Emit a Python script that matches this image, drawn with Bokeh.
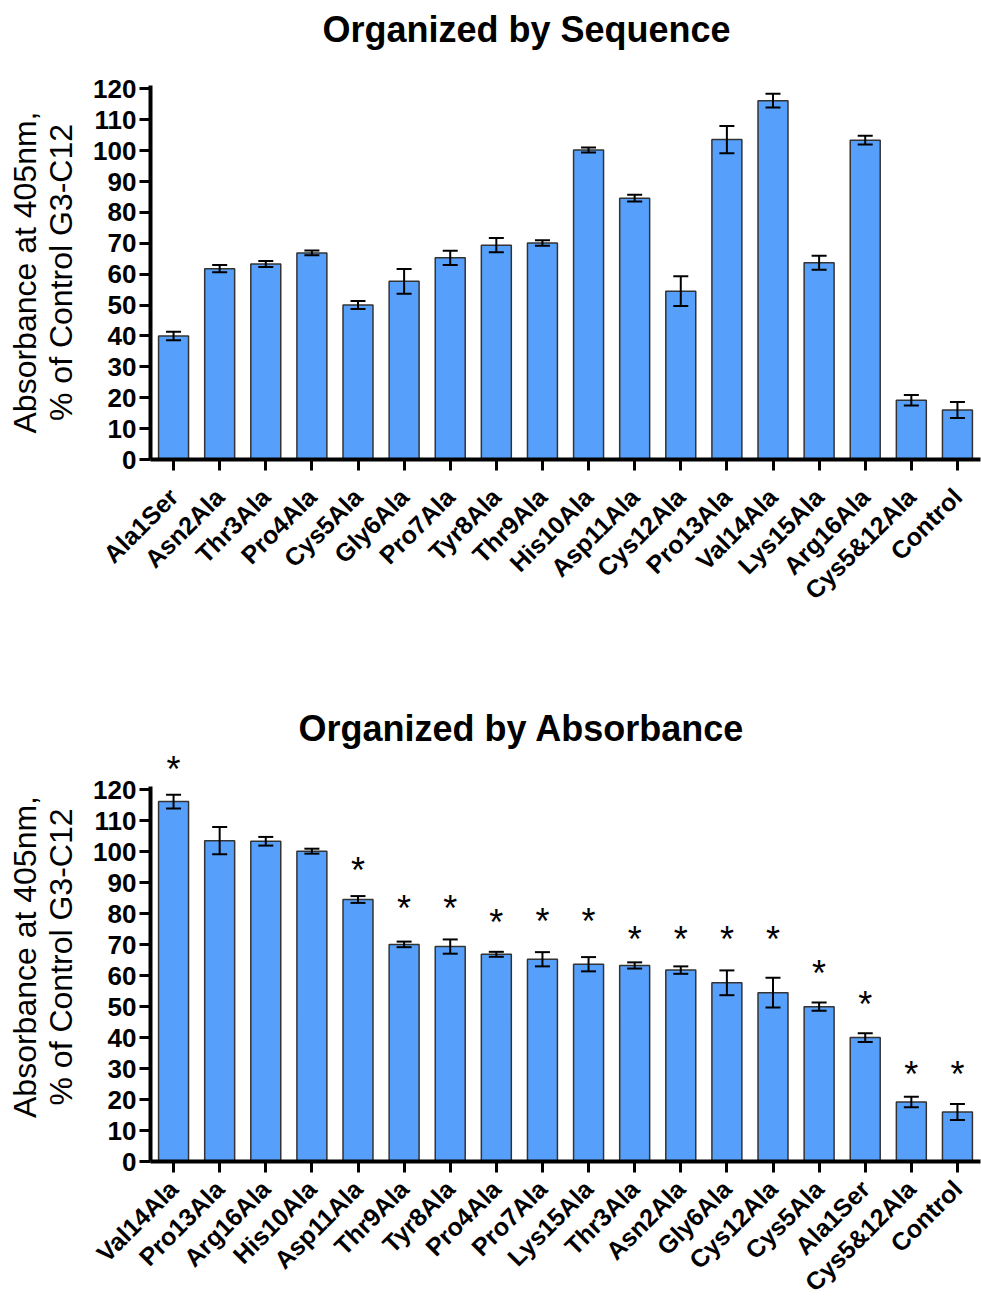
from math import pi
from bokeh.plotting import figure
from bokeh.models import (ColumnDataSource, Whisker, TeeHead, FixedTicker, Range1d,
                          FactorRange, Title, Label)
from bokeh.layouts import column
from bokeh.embed import file_html
from bokeh.resources import INLINE
from bokeh.core.properties import value

# ---------------- data ----------------
mutants = ["Ala1Ser", "Asn2Ala", "Thr3Ala", "Pro4Ala", "Cys5Ala", "Gly6Ala", "Pro7Ala",
           "Tyr8Ala", "Thr9Ala", "His10Ala", "Asp11Ala", "Cys12Ala", "Pro13Ala",
           "Val14Ala", "Lys15Ala", "Arg16Ala", "Cys5&12Ala", "Control"]
absorbance = [40.0, 61.8, 63.3, 66.9, 50.0, 57.7, 65.3, 69.4, 70.1, 100.2, 84.6, 54.5,
              103.6, 116.2, 63.7, 103.4, 19.2, 16.0]
error = [1.4, 1.2, 1.0, 0.8, 1.3, 4.0, 2.3, 2.3, 0.9, 0.8, 1.1, 4.8,
         4.4, 2.2, 2.3, 1.4, 1.7, 2.6]

# order of the second panel (by absorbance)
absorbance_order = ["Val14Ala", "Pro13Ala", "Arg16Ala", "His10Ala", "Asp11Ala", "Thr9Ala",
                    "Tyr8Ala", "Pro4Ala", "Pro7Ala", "Lys15Ala", "Thr3Ala", "Asn2Ala",
                    "Gly6Ala", "Cys12Ala", "Cys5Ala", "Ala1Ser", "Cys5&12Ala", "Control"]
# significance marks (height of '*' in data units, None = no mark)
star_height = [128.5, None, None, None, 95.9, 83.7, 83.7, 79.0, 79.4, 79.4, 73.6, 73.6,
               73.6, 73.6, 62.7, 52.5, 30.0, 30.0]

y_ticks = list(range(0, 121, 10))
y_label = "Absorbance at 405nm,\n% of Control G3-C12"

FONT = "Liberation Sans"
BAR_FILL = "#56A0FB"
BAR_LINE = "#333333"


def make_panel(cats, vals, errs, height, border_top, border_bottom, ymax, xlabel_standoff):
    src = ColumnDataSource(dict(
        cat=cats, val=vals,
        upper=[v + e for v, e in zip(vals, errs)],
        lower=[v - e for v, e in zip(vals, errs)],
    ))
    p = figure(x_range=FactorRange(*cats), y_range=Range1d(0, ymax),
               width=981, height=height, output_backend="svg", toolbar_location=None,
               min_border_left=150, min_border_right=1,
               min_border_top=border_top, min_border_bottom=border_bottom)
    p.outline_line_color = None
    p.xgrid.grid_line_color = None
    p.ygrid.grid_line_color = None

    p.vbar(x="cat", top="val", width=0.65, source=src,
           fill_color=BAR_FILL, line_color=BAR_LINE, line_width=1.5)
    w = Whisker(base="cat", upper="upper", lower="lower", source=src,
                line_color="black", line_width=2, level="annotation",
                upper_head=TeeHead(size=15, line_width=2, line_color="black"),
                lower_head=TeeHead(size=15, line_width=2, line_color="black"))
    p.add_layout(w)

    for ax in (p.xaxis[0], p.yaxis[0]):
        ax.axis_line_width = 4
        ax.axis_line_color = "black"
        ax.major_tick_line_width = 3
        ax.major_tick_line_color = "black"
        ax.major_tick_out = 11
        ax.major_tick_in = 0
        ax.minor_tick_line_color = None
        ax.major_label_text_font = FONT
        ax.major_label_text_font_style = "bold"
        ax.major_label_text_color = "black"

    p.xaxis.major_label_orientation = pi / 4
    p.xaxis.major_label_standoff = xlabel_standoff
    p.xaxis.major_label_text_font_size = "25px"

    p.yaxis.ticker = FixedTicker(ticks=y_ticks)
    p.yaxis.bounds = (0, 121)
    p.yaxis.major_label_standoff = 3
    p.yaxis.major_label_text_font_size = "26px"
    p.yaxis.axis_label = y_label
    p.yaxis.axis_label_text_font = FONT
    p.yaxis.axis_label_text_font_style = "normal"
    p.yaxis.axis_label_text_font_size = "32px"
    p.yaxis.axis_label_text_line_height = 1.0
    p.yaxis.axis_label_text_color = "black"
    p.yaxis.axis_label_standoff = 11
    return p


# ---- heading strip for the first panel (its frame is aligned with the panel below) ----
head = figure(width=981, height=60, x_range=Range1d(150, 980), y_range=Range1d(0, 60),
              x_axis_type=None, y_axis_type=None, output_backend="svg",
              toolbar_location=None, min_border=0)
head.outline_line_color = None
head.xgrid.grid_line_color = None
head.ygrid.grid_line_color = None
head.add_layout(Label(x=526, y=31, text="Organized by Sequence",
                      text_font=FONT, text_font_size="36px", text_font_style="bold",
                      text_align="center", text_baseline="middle", text_color="black"))

# ---- panel 1: organized by sequence ----
p1 = make_panel(mutants, absorbance, error, 629, 25, 230, 121.1, 22)

# ---- panel 2: organized by absorbance ----
lookup_val = dict(zip(mutants, absorbance))
lookup_err = dict(zip(mutants, error))
vals2 = [lookup_val[c] for c in absorbance_order]
errs2 = [lookup_err[c] for c in absorbance_order]
p2 = make_panel(absorbance_order, vals2, errs2, 621, 63, 149, 132.06, 12)
p2.title = Title(text="Organized by Absorbance", align="left", offset=148, standoff=8,
                 text_font=FONT, text_font_size="36px", text_font_style="bold",
                 text_color="black")

star_cats = [c for c, h in zip(absorbance_order, star_height) if h is not None]
star_ys = [h for h in star_height if h is not None]
p2.text(x=star_cats, y=star_ys, text=["*"] * len(star_cats),
        text_font=value(FONT), text_font_size="36px", text_align="center",
        text_baseline="middle", y_offset=6, text_color="black")

layout = column(head, p1, p2)
open("out.html", "w").write(file_html(layout, INLINE))
